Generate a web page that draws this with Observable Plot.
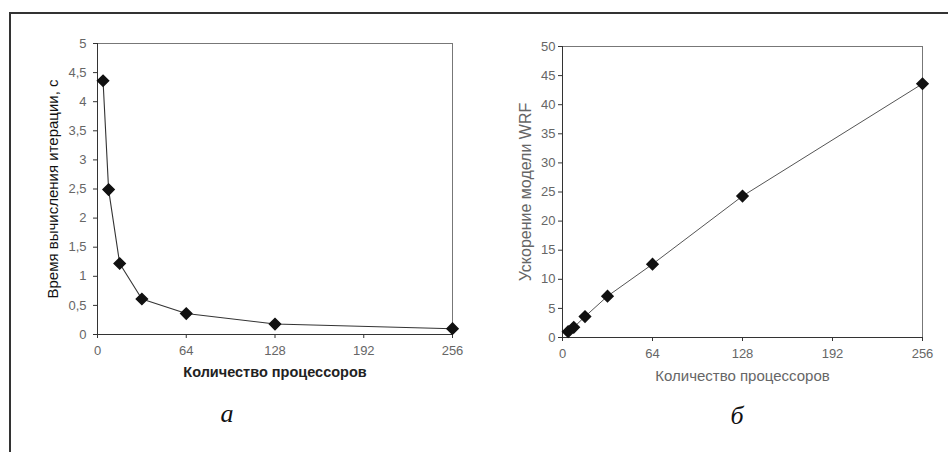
<!DOCTYPE html>
<html>
<head>
<meta charset="utf-8">
<script src="https://cdn.jsdelivr.net/npm/d3@7"></script>
<script src="https://cdn.jsdelivr.net/npm/@observablehq/plot@0.6"></script>
<style>
  html, body { margin: 0; padding: 0; background: #fff; }
  #wrap { position: relative; width: 948px; height: 452px; overflow: hidden; background: #fff; }
  #wrap svg { position: absolute; top: 0; }
  .border-top { position: absolute; left: 9px; top: 12px; width: 939px; height: 2px; background: #333; }
  .border-left { position: absolute; left: 9px; top: 12px; width: 2px; height: 440px; background: #333; }
  .cap { position: absolute; font-family: "Liberation Serif", "DejaVu Serif", serif; font-style: italic; font-size: 26px; color: #111; transform: translate(-50%, -50%); }
</style>
</head>
<body>
<div id="wrap">
  <div class="border-top"></div>
  <div class="border-left"></div>
</div>
<script>
// Data
const procs = [4, 8, 16, 32, 64, 128, 256];
const timeSec = [4.36, 2.49, 1.22, 0.61, 0.36, 0.18, 0.10];
const speedup = [1, 1.75, 3.6, 7.1, 12.6, 24.3, 43.6];
const xTicks = [0, 64, 128, 192, 256];
const yTicksTime = [0, 0.5, 1, 1.5, 2, 2.5, 3, 3.5, 4, 4.5, 5];
const yTicksSpeed = [0, 5, 10, 15, 20, 25, 30, 35, 40, 45, 50];
const labelXLeft = "Количество процессоров";
const labelYLeft = "Время вычисления итерации, с";
const labelXRight = "Количество процессоров";
const labelYRight = "Ускорение модели WRF";
const captions = ["а", "б"];

const tableA = procs.map((p, i) => ({p, v: timeSec[i]}));
const tableB = procs.map((p, i) => ({p, v: speedup[i]}));
const comma = d => String(d).replace(".", ",");

const wrap = document.getElementById("wrap");

const left = Plot.plot({
  width: 474, height: 452,
  marginLeft: 97, marginRight: 22, marginTop: 43, marginBottom: 118,
  style: {fontFamily: "'Liberation Sans', Arial, sans-serif", fontSize: "13px", background: "transparent"},
  x: {domain: [0, 256]},
  y: {domain: [0, 5]},
  marks: [
    Plot.frame({stroke: "#777"}),
    Plot.axisX({ticks: xTicks, tickSize: 4, tickPadding: 7, stroke: "#333", color: "#666", fontSize: 13, label: null}),
    Plot.axisY({ticks: yTicksTime, tickFormat: comma, tickSize: 4, tickPadding: 7, stroke: "#333", color: "#666", fontSize: 13, label: null}),
    Plot.text([labelXLeft], {frameAnchor: "bottom", dy: 38, text: d => d, fontSize: 14.5, fontWeight: "bold", fill: "#222", lineAnchor: "middle", textAnchor: "middle"}),
    Plot.text([labelYLeft], {frameAnchor: "left", dx: -44, rotate: -90, text: d => d, fontSize: 15, fill: "#111", lineAnchor: "middle", textAnchor: "middle"}),
    Plot.ruleY([0], {stroke: "#333"}),
    Plot.ruleX([0], {stroke: "#333"}),
    Plot.line(tableA, {x: "p", y: "v", stroke: "#333", strokeWidth: 1.1}),
    Plot.dot(tableA, {x: "p", y: "v", symbol: "diamond2", r: 5, fill: "#111", stroke: "#111"})
  ]
});
left.style.left = "0px";
wrap.appendChild(left);

const right = Plot.plot({
  width: 474, height: 452,
  marginLeft: 88, marginRight: 26, marginTop: 46, marginBottom: 115,
  style: {fontFamily: "'Liberation Sans', Arial, sans-serif", fontSize: "13px", background: "transparent"},
  x: {domain: [0, 256]},
  y: {domain: [0, 50]},
  marks: [
    Plot.frame({stroke: "#777"}),
    Plot.axisX({ticks: xTicks, tickSize: 4, tickPadding: 7, stroke: "#333", color: "#666", fontSize: 13, label: null}),
    Plot.axisY({ticks: yTicksSpeed, tickSize: 4, tickPadding: 3, stroke: "#333", color: "#666", fontSize: 13, label: null}),
    Plot.text([labelXRight], {frameAnchor: "bottom", dy: 39, text: d => d, fontSize: 15, fill: "#666", lineAnchor: "middle", textAnchor: "middle"}),
    Plot.text([labelYRight], {frameAnchor: "left", dx: -37, rotate: -90, text: d => d, fontSize: 16, fill: "#666", lineAnchor: "middle", textAnchor: "middle"}),
    Plot.ruleY([0], {stroke: "#333"}),
    Plot.ruleX([0], {stroke: "#333"}),
    Plot.line(tableB, {x: "p", y: "v", stroke: "#555", strokeWidth: 1}),
    Plot.dot(tableB, {x: "p", y: "v", symbol: "diamond2", r: 5, fill: "#111", stroke: "#111"})
  ]
});
right.style.left = "474px";
wrap.appendChild(right);

[[227, 414], [737, 416]].forEach((pos, i) => {
  const d = document.createElement("div");
  d.className = "cap";
  d.textContent = captions[i];
  d.style.left = pos[0] + "px";
  d.style.top = pos[1] + "px";
  wrap.appendChild(d);
});
</script>
</body>
</html>
